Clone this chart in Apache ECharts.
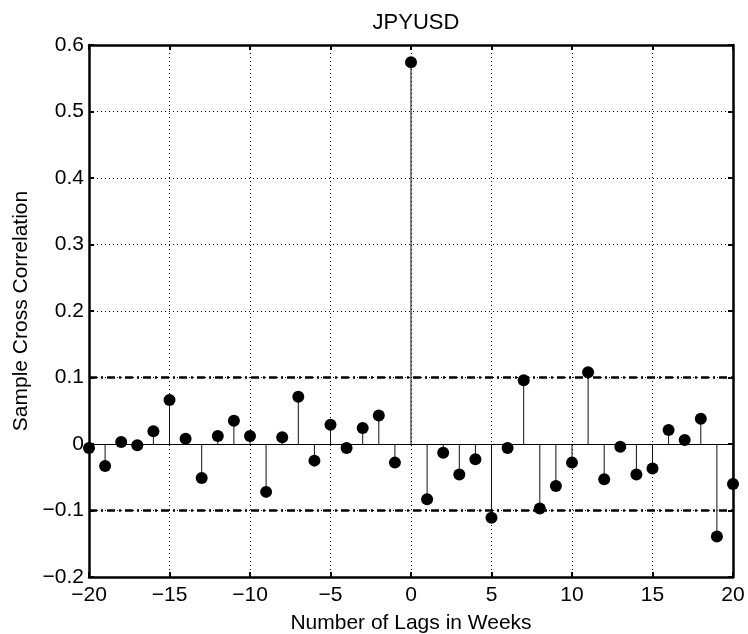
<!DOCTYPE html>
<html>
<head>
<meta charset="UTF-8">
<title>JPYUSD</title>
<script src="https://cdn.jsdelivr.net/npm/echarts@6/dist/echarts.min.js"></script>
<style>
  html, body { margin: 0; padding: 0; background: #fff; }
  #chart { width: 748px; height: 634px; }
</style>
</head>
<body>
<div id="chart"></div>
<script type="text/javascript">
// lags (weeks) and sample cross correlation
var lags = [-20,-19,-18,-17,-16,-15,-14,-13,-12,-11,-10,-9,-8,-7,-6,-5,-4,-3,-2,-1,
            0,1,2,3,4,5,6,7,8,9,10,11,12,13,14,15,16,17,18,19,20];
var xcf = [-0.006,-0.033,0.003,-0.002,0.019,0.066,0.008,-0.051,0.012,0.035,
           0.012,-0.072,0.010,0.071,-0.025,0.029,-0.006,0.024,0.043,-0.028,
           0.574,
           -0.083,-0.013,-0.046,-0.023,-0.111,-0.006,0.096,-0.097,-0.063,-0.028,
           0.108,-0.053,-0.004,-0.046,-0.037,0.021,0.006,0.038,-0.139,-0.060];
var bounds = [0.1, -0.1];   // confidence bounds
var xTicks = [-20, 20, 5];  // min, max, step
var yTicks = [-0.2, 0.6, 0.1];

var FONT = "'Liberation Sans', Arial, Helvetica, sans-serif";
var pts = lags.map(function (l, i) { return [l, xcf[i]]; });

function minus(v) {
    var s = String(Math.round(v * 10) / 10);
    return s.replace('-', '\u2212');
}

var chart = echarts.init(document.getElementById('chart'));
var option = {
    animation: false,
    backgroundColor: '#fff',
    title: {
        text: 'JPYUSD',
        left: 411, top: 7, textAlign: 'center',
        textStyle: { fontFamily: FONT, fontSize: 22, fontWeight: 'normal', color: '#000' }
    },
    grid: { left: 89, right: 15, top: 45, bottom: 57, containLabel: false, outerBoundsMode: 'none' },
    xAxis: [{
        type: 'value', min: xTicks[0], max: xTicks[1], interval: xTicks[2],
        name: 'Number of Lags in Weeks', nameLocation: 'middle', nameGap: 36,
        nameTextStyle: { fontFamily: FONT, fontSize: 21, color: '#000' },
        axisLine: { onZero: false, lineStyle: { color: '#000', width: 2.5 } },
        axisTick: { inside: true, length: 5, lineStyle: { color: '#000', width: 2 } },
        axisLabel: { fontFamily: FONT, fontSize: 21, color: '#000', margin: 8, formatter: minus },
        splitLine: { show: true, lineStyle: { color: '#000', width: 1, type: [1, 3] } }
    }, {
        type: 'value', position: 'top', min: xTicks[0], max: xTicks[1], interval: xTicks[2],
        axisLine: { onZero: false, lineStyle: { color: '#000', width: 2.5 } },
        axisTick: { inside: true, length: 5, lineStyle: { color: '#000', width: 2 } },
        axisLabel: { show: false },
        splitLine: { show: false }
    }],
    yAxis: [{
        type: 'value', min: yTicks[0], max: yTicks[1], interval: yTicks[2],
        name: 'Sample Cross Correlation', nameLocation: 'middle', nameGap: 55,
        nameTextStyle: { fontFamily: FONT, fontSize: 21, color: '#000' },
        axisLine: { onZero: false, lineStyle: { color: '#000', width: 2.5 } },
        axisTick: { inside: true, length: 5, lineStyle: { color: '#000', width: 2 } },
        axisLabel: { fontFamily: FONT, fontSize: 21, color: '#000', margin: 5, formatter: minus },
        splitLine: { show: true, lineStyle: { color: '#000', width: 1, type: [1, 3] } }
    }, {
        type: 'value', position: 'right', min: yTicks[0], max: yTicks[1], interval: yTicks[2],
        axisLine: { onZero: false, lineStyle: { color: '#000', width: 2.5 } },
        axisTick: { inside: true, length: 5, lineStyle: { color: '#000', width: 2 } },
        axisLabel: { show: false },
        splitLine: { show: false }
    }],
    series: [{
        // stems + zero baseline + bounds
        type: 'custom',
        data: pts,
        clip: false,
        renderItem: function (params, api) {
            var x = api.value(0), y = api.value(1);
            var p0 = api.coord([x, 0]);
            var p1 = api.coord([x, y]);
            return {
                type: 'line',
                shape: { x1: p0[0], y1: p0[1], x2: p1[0], y2: p1[1] },
                style: { stroke: '#111', lineWidth: 1 }
            };
        },
        markLine: {
            silent: true, symbol: 'none', label: { show: false },
            data: [
                { yAxis: 0, lineStyle: { color: '#000', width: 1, type: 'solid' } },
                { yAxis: bounds[0], lineStyle: { color: '#000', width: 2.5, type: [8, 4, 2, 4] } },
                { yAxis: bounds[1], lineStyle: { color: '#000', width: 2.5, type: [8, 4, 2, 4] } }
            ]
        },
        z: 3
    }, {
        type: 'scatter',
        data: pts,
        symbol: 'circle',
        symbolSize: 12,
        clip: false,
        itemStyle: { color: '#000', opacity: 1 },
        z: 4
    }]
};
chart.setOption(option);
</script>
</body>
</html>
